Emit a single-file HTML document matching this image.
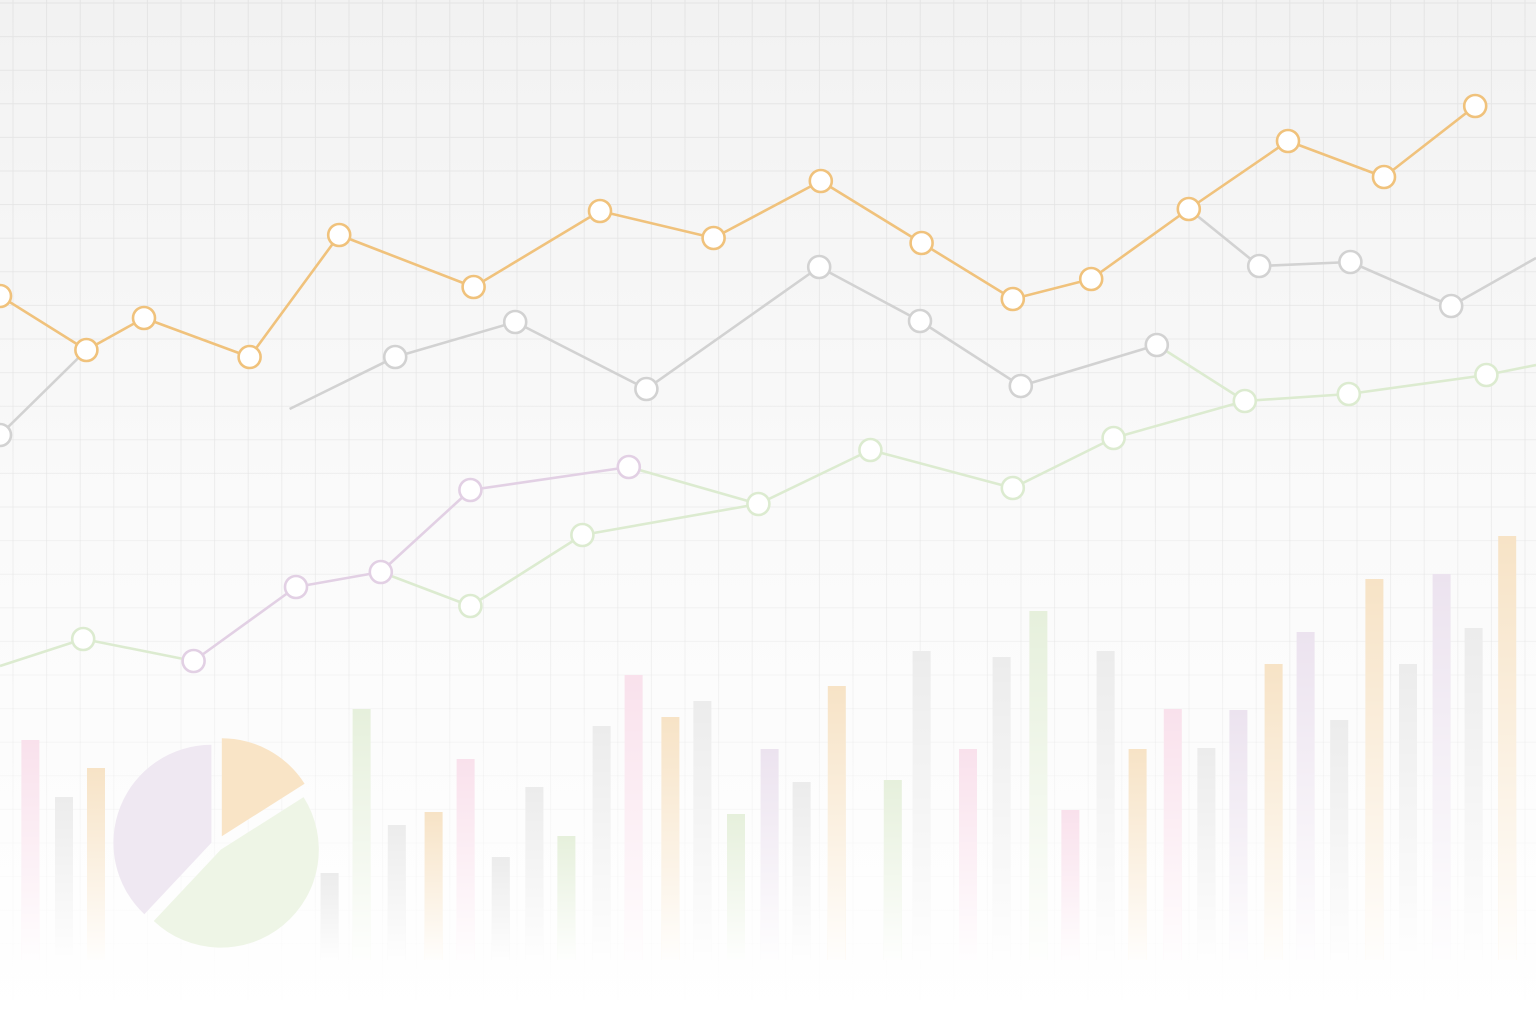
<!DOCTYPE html>
<html><head><meta charset="utf-8">
<style>
html,body{margin:0;padding:0;width:1536px;height:1024px;overflow:hidden;background:#fff;font-family:"Liberation Sans",sans-serif;}
svg{display:block}
</style></head>
<body>
<svg id="chart" width="1536" height="1024" viewBox="0 0 1536 1024" xmlns="http://www.w3.org/2000/svg">
<defs>
<linearGradient id="bg" x1="0" y1="0" x2="0" y2="1">
<stop offset="0" stop-color="#f2f2f2"/><stop offset="0.5" stop-color="#fafafa"/><stop offset="1" stop-color="#ffffff"/>
</linearGradient>
<linearGradient id="gridFade" x1="0" y1="0" x2="0" y2="1024" gradientUnits="userSpaceOnUse">
<stop offset="0" stop-color="#e4e4e4"/><stop offset="0.6" stop-color="#efefef"/><stop offset="0.9" stop-color="#fbfbfb"/><stop offset="1" stop-color="#ffffff"/>
</linearGradient>
<linearGradient id="barFade" x1="0" y1="0" x2="0" y2="1">
<stop offset="0" stop-color="#fff" stop-opacity="0"/><stop offset="1" stop-color="#fff" stop-opacity="0.95"/>
</linearGradient>
</defs>
<rect width="1536" height="1024" fill="url(#bg)"/>
<g id="grid"></g>
<g id="bars"></g>
<g id="pie"></g>
<g id="lines"></g>
<g id="markers"></g>
</svg>
<script>
// x in "time units" (0..96), values in index units (0..100)
const orangeX = [0,5.4,9,15.6,21.2,29.6,37.5,44.6,51.3,57.6,63.3,68.2,74.3,80.5,86.5,92.2];
const orangeV = [70.4,65,68.2,64.3,76.5,71.3,78.9,76.2,81.9,75.7,70.1,72.1,79.1,85.9,82.3,89.4];
const gray1X = [0,5.4];
const gray1V = [56.5,65];
const gray2X = [18.1,24.7,32.2,40.4,51.2,57.5,63.8,72.3];
const gray2V = [59.1,64.3,67.8,61.1,73.3,67.9,61.4,65.5];
const gray3X = [74.3,78.7,84.4,90.7,96];
const gray3V = [79.1,73.4,73.8,69.4,74.2];
const greenAX = [0,5.2,12.1];
const greenAV = [33.4,36.1,33.9];
const purpleX = [12.1,18.5,23.8,29.4,39.3];
const purpleV = [33.9,41.3,42.8,51,53.3];
const greenBX = [23.8,29.4,36.4,47.4,54.4,63.3,69.6,77.8,84.3,92.9,96];
const greenBV = [42.8,39.4,46.5,49.6,55,51.2,56.2,59.9,60.6,62.5,63.5];
const greenCX = [39.3,47.4];
const greenCV = [53.3,49.6];
const greenDX = [72.3,77.8];
const greenDV = [65.5,59.9];

const barX = [1.9,4,6,20.6,22.6,24.8,27.1,29.1,31.3,33.4,35.4,37.6,39.6,41.9,43.9,46,48.1,50.1,52.3,55.8,57.6,60.5,62.6,64.9,66.9,69.1,71.1,73.3,75.4,77.4,79.6,81.6,83.7,85.9,88,90.1,92.1,94.2];
const barV = [26,20.3,23.2,12.7,29.1,17.5,18.8,24.1,14.3,21.3,16.4,27.4,32.5,28.3,29.9,18.6,25.1,21.8,31.4,22,34.9,25.1,34.3,38.9,19,34.9,25.1,29.1,25.2,29,33.6,36.8,28,42.1,33.6,42.6,37.2,46.4];
const barC = ["pink","gray","orange","gray","green","gray","orange","pink","gray","gray","green","gray","pink","orange","gray","green","purple","gray","orange","green","gray","pink","gray","green","pink","gray","orange","pink","gray","purple","orange","purple","gray","orange","gray","purple","gray","orange"];
const barBase = 4;

const pieLabels = ["orange","green","purple"];
const pieValues = [16,46,38];

const NS = "http://www.w3.org/2000/svg";
const xScale = v => v*16;
const yScale = v => 1000 - v*10;
const colors = {orange:"#f0c27c",gray:"#d2d2d2",green:"#dcebd0",purple:"#e2d0e4",pink:"#f6d8e6"};
const barColors = {orange:"#f7e3c6",gray:"#ececec",green:"#e6f0dc",purple:"#ece3ef",pink:"#f9e1ec"};

function el(tag, attrs, parent){const e=document.createElementNS(NS,tag);for(const k in attrs)e.setAttribute(k,attrs[k]);parent.appendChild(e);return e;}

// grid
const grid=document.getElementById('grid');
for(let x=13;x<1536;x+=33.6){const l=el('line',{x1:x,y1:0,x2:x,y2:1000,stroke:'url(#gridFade)','stroke-width':1},grid);

}
for(let y=3;y<1000;y+=33.6){const op=Math.max(0,1-y/1000);const l=el('line',{x1:0,y1:y,x2:1536,y2:y,stroke:'#e4e4e4','stroke-opacity':op.toFixed(2),'stroke-width':1},grid);

}

// bars
const bars=document.getElementById('bars');
barX.forEach((bx,i)=>{
  const x=xScale(bx)-9, top=yScale(barV[i]), bot=yScale(barBase);
  const r=el('rect',{x:x,y:top,width:18,height:bot-top,fill:barColors[barC[i]]},bars);
  
  
  const f=el('rect',{x:x,y:top,width:18,height:bot-top,fill:'url(#barFade)'},bars);
  
  
});

// pie
const pie=document.getElementById('pie');
const pcx=217,pcy=845,pr=98,pieCol={orange:"#f9e4c6",green:"#eef5e6",purple:"#efe8f2"};
const tot=pieValues.reduce((a,b)=>a+b,0);
let ang=-Math.PI/2;
pieValues.forEach((v,i)=>{
  const a0=ang,a1=ang+v/tot*2*Math.PI;ang=a1;
  const mid=(a0+a1)/2, off=i===0?10:6;
  const cx=pcx+Math.cos(mid)*off, cy=pcy+Math.sin(mid)*off;
  const large=(a1-a0)>Math.PI?1:0;
  const d=`M${cx},${cy} L${cx+pr*Math.cos(a0)},${cy+pr*Math.sin(a0)} A${pr},${pr} 0 ${large} 1 ${cx+pr*Math.cos(a1)},${cy+pr*Math.sin(a1)} Z`;
  const p=el('path',{d:d,fill:pieCol[pieLabels[i]]},pie);
  
  
});

// lines
const lines=document.getElementById('lines');
const markers=document.getElementById('markers');
function series(xs,vs,color,name,markIdx){
  const pts=xs.map((x,i)=>xScale(x)+','+yScale(vs[i])).join(' ');
  const pl=el('polyline',{points:pts,fill:'none',stroke:colors[color],'stroke-width':2.6,'stroke-linejoin':'round'},lines);
  
  
  markIdx.forEach(i=>{
    const c=el('circle',{cx:xScale(xs[i]),cy:yScale(vs[i]),r:11,fill:'#fff',stroke:colors[color],'stroke-width':2.6},markers);
    
    
  });
}
series(greenAX,greenAV,'green','green-series-a',[1]);
series(greenCX,greenCV,'green','green-series-c',[]);
series(greenBX,greenBV,'green','green-series-b',[1,2,3,4,5,6,7,8,9]);
series(greenDX,greenDV,'green','green-series-d',[]);
series(purpleX,purpleV,'purple','purple-series',[0,1,2,3,4]);
series(gray1X,gray1V,'gray','gray-series-a',[0]);
series(gray2X,gray2V,'gray','gray-series-b',[1,2,3,4,5,6,7]);
series(gray3X,gray3V,'gray','gray-series-c',[1,2,3]);
series(orangeX,orangeV,'orange','orange-series',orangeX.map((_,i)=>i));
</script>
</body></html>
